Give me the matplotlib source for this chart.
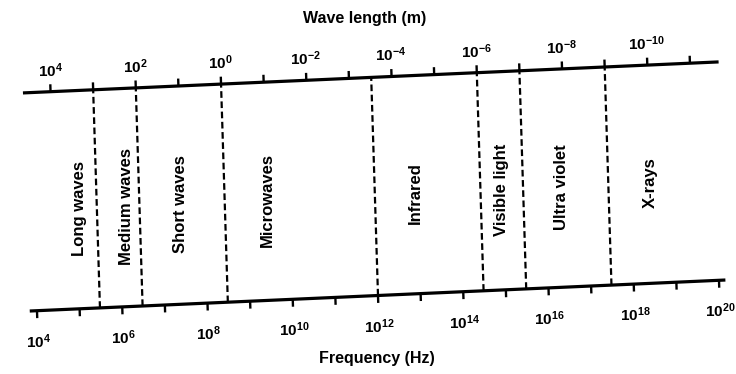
import numpy as np
import matplotlib.pyplot as plt
from matplotlib.transforms import Affine2D

plt.rcParams['font.family'] = ['Liberation Sans', 'DejaVu Sans']
plt.rcParams['mathtext.default'] = 'regular'

C = 3e8  # speed of light, m/s

# frequency scale (bottom), exponents of 10 Hz
freq_ticks = np.arange(4, 21)
freq_labels = np.arange(4, 21, 2)
# wavelength scale (top), exponents of 10 m
wave_ticks = np.arange(4, -12, -1)
wave_labels = np.arange(4, -11, -2)

band_names = ['Long waves', 'Medium waves', 'Short waves', 'Microwaves',
              'Infrared', 'Visible light', 'Ultra violet', 'X-rays']
# wavelength (m) at the dashed boundaries between bands
band_edges = [1e3, 1e2, 1e0, 3e-4, 1e-6, 1e-7, 1e-9]
# log10(frequency) where each band name is written
band_label_pos = [5.08, 6.17, 7.45, 9.47, 12.94, 14.98, 16.38, 18.46]

fig = plt.figure(figsize=(7.36, 3.74), dpi=100)
ax = fig.add_axes([0, 0, 1, 1])
ax.set_autoscale_on(False)
ax.set_xlim(0, 736)
ax.set_ylim(0, 374)
ax.axis('off')

# local frame: x = log10(f), y = 0 on the frequency line, 1 on the wavelength line
# (the diagram is slightly tilted, as in the scan)
local = Affine2D.from_values(42.625, 1.9, -6.8, 218.1, -133.5, 55.7) + ax.transData

lo, hi = 3.83, 20.15
kw = dict(color='black', transform=local, solid_capstyle='butt')
ax.plot([lo, hi], [0, 0], lw=2.3, **kw)
ax.plot([lo, hi], [1, 1], lw=2.3, **kw)

tick = 0.034
for e in freq_ticks:
    ax.plot([e, e], [0, -tick], lw=1.7, **kw)
for e in wave_ticks:
    L = np.log10(C) - e
    ax.plot([L, L], [1, 1 + tick], lw=1.7, **kw)

for lam in band_edges:
    L = np.log10(C / lam)
    ax.plot([L, L], [0, 1], lw=1.6, color='black', transform=local,
            dashes=(3.0, 1.6))

for e in freq_labels:
    ax.text(e, -0.17, r'$10^{%d}$' % e, transform=local, ha='center',
            va='baseline', fontsize=11, fontweight='bold')
for e in wave_labels:
    L = np.log10(C) - e
    ax.text(L, 1.069, r'$10^{%d}$' % e, transform=local, ha='center',
            va='baseline', fontsize=11, fontweight='bold')

for name, L in zip(band_names, band_label_pos):
    ax.text(L, 0.46, name, transform=local, rotation=90, ha='center',
            va='center', fontsize=12, fontweight='bold')

ax.text(364.5, 356, 'Wave length (m)', ha='center', va='center',
        fontsize=11.5, fontweight='bold')
ax.text(377, 16, 'Frequency (Hz)', ha='center', va='center',
        fontsize=11.5, fontweight='bold')

fig.savefig('out.png', dpi=100, facecolor='white')
